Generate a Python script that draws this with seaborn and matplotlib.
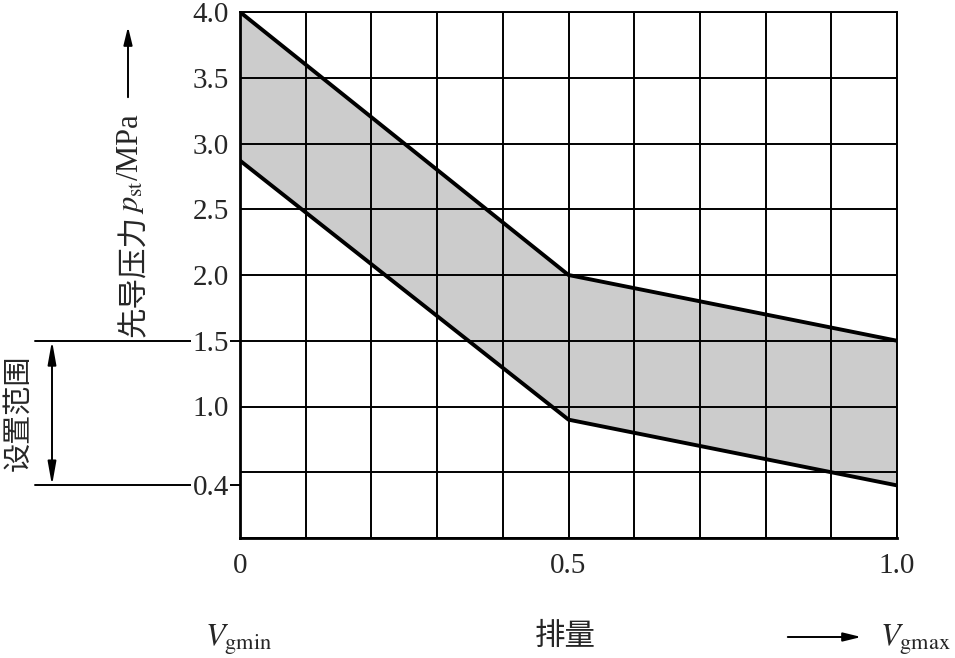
import matplotlib
matplotlib.use("Agg")
import matplotlib.pyplot as plt
import matplotlib.transforms as mtransforms
from matplotlib.ticker import FixedLocator, MultipleLocator
import seaborn as sns
import pandas as pd

# ---- data ----
displacement = [0.0, 0.5, 1.0]
upper_pressure = [4.0, 2.0, 1.5]
lower_pressure = [2.87, 0.90, 0.40]
ytick_values = [4.0, 3.5, 3.0, 2.5, 2.0, 1.5, 1.0, 0.4]
ytick_labels = ["4.0", "3.5", "3.0", "2.5", "2.0", "1.5", "1.0", "0.4"]
xtick_values = [0.0, 0.5, 1.0]
xtick_labels = ["0", "0.5", "1.0"]
range_limits = [0.4, 1.5]

sns.set_style("white")
plt.rcParams['font.family'] = ['Liberation Serif', 'Noto Sans CJK SC', 'DejaVu Sans']
plt.rcParams['mathtext.fontset'] = 'stix'

W, H = 955, 658
fig = plt.figure(figsize=(9.55, 6.58), dpi=100)
ax = fig.add_axes([240 / W, 1 - 538 / H, (897 - 240) / W, (538 - 12) / H])

df = pd.DataFrame({"x": displacement, "upper": upper_pressure, "lower": lower_pressure})
ax.fill_between(df["x"], df["lower"], df["upper"], color="#cccccc", lw=0, zorder=1)
sns.lineplot(data=df, x="x", y="upper", ax=ax, color="black", lw=2.8, zorder=4)
sns.lineplot(data=df, x="x", y="lower", ax=ax, color="black", lw=2.8, zorder=4)

ax.set_xlim(0, 1.0)
ax.set_ylim(0, 4.0)
ax.set_xlabel("")
ax.set_ylabel("")

ax.xaxis.set_major_locator(FixedLocator(xtick_values))
ax.set_xticklabels(xtick_labels)
ax.xaxis.set_minor_locator(MultipleLocator(0.1))
ax.yaxis.set_major_locator(FixedLocator(ytick_values))
ax.set_yticklabels(ytick_labels)
ax.yaxis.set_minor_locator(MultipleLocator(0.5))
ax.xaxis.remove_overlapping_locs = False
ax.yaxis.remove_overlapping_locs = False
ax.tick_params(which="both", length=0)
ax.tick_params(axis="x", which="major", pad=11, labelsize=21)
ax.tick_params(axis="y", which="major", pad=8, labelsize=21)
ax.grid(False, which="major")
ax.grid(True, which="minor", color="black", lw=1.4, zorder=2)
ax.set_axisbelow(False)
for lab in ax.get_yticklabels():
    lab.set_bbox(dict(facecolor="white", edgecolor="none", pad=1.0))

for side in ["left", "bottom"]:
    ax.spines[side].set_linewidth(2.0)
    ax.spines[side].set_color("black")
for side in ["top", "right"]:
    ax.spines[side].set_linewidth(1.4)
    ax.spines[side].set_color("black")

# setting-range annotation on the left
blend = mtransforms.blended_transform_factory(fig.transFigure, ax.transData)
for v in range_limits:
    ax.plot([35 / W, 240 / W], [v, v], transform=blend, color="black",
            lw=1.4, clip_on=False, zorder=0.5)
ax.annotate("", xy=(52 / W, range_limits[0]), xytext=(52 / W, range_limits[1]),
            xycoords=blend, textcoords=blend,
            arrowprops=dict(arrowstyle="<|-|>,head_length=1.4,head_width=0.25",
                            color="black", lw=1.4, shrinkA=0, shrinkB=0))
fig.text(18 / W, 1 - 413 / H, "设置范围", rotation=90, ha="center", va="center",
         fontsize=21, family=['Noto Sans CJK SC'])

# y label (CJK part + math part) with arrow
t1 = fig.text(134 / W, 1 - 337 / H, "先导压力", rotation=90,
              ha="center", va="bottom", fontsize=22, family=['Noto Sans CJK SC'])
fig.canvas.draw()
bb = t1.get_window_extent(renderer=fig.canvas.get_renderer())
top_px = bb.y1 / fig.dpi * 100  # pixel coordinate from bottom (dpi=100)
fig.text(130 / W, (top_px + 1) / H, "$p_{\\rm st}$/MPa", rotation=90,
         ha="center", va="bottom", fontsize=22)
fig.add_artist(matplotlib.patches.FancyArrowPatch(
    (128 / W, 1 - 100 / H), (128 / W, 1 - 24 / H), transform=fig.transFigure,
    arrowstyle="-|>,head_length=0.9,head_width=0.22", color="black", lw=1.4,
    mutation_scale=12))

# bottom labels
fig.text(205 / W, 1 - 640 / H, "$V_{\\rm gmin}$", ha="left", va="center", fontsize=23)
fig.text(565 / W, 1 - 637 / H, "排量", ha="center", va="center", fontsize=22)
fig.add_artist(matplotlib.patches.FancyArrowPatch(
    (785 / W, 1 - 637 / H), (864 / W, 1 - 637 / H), transform=fig.transFigure,
    arrowstyle="-|>,head_length=0.9,head_width=0.22", color="black", lw=1.4,
    mutation_scale=12))
fig.text(880 / W, 1 - 640 / H, "$V_{\\rm gmax}$", ha="left", va="center", fontsize=23)

fig.savefig("out.png", dpi=100, facecolor="white")
